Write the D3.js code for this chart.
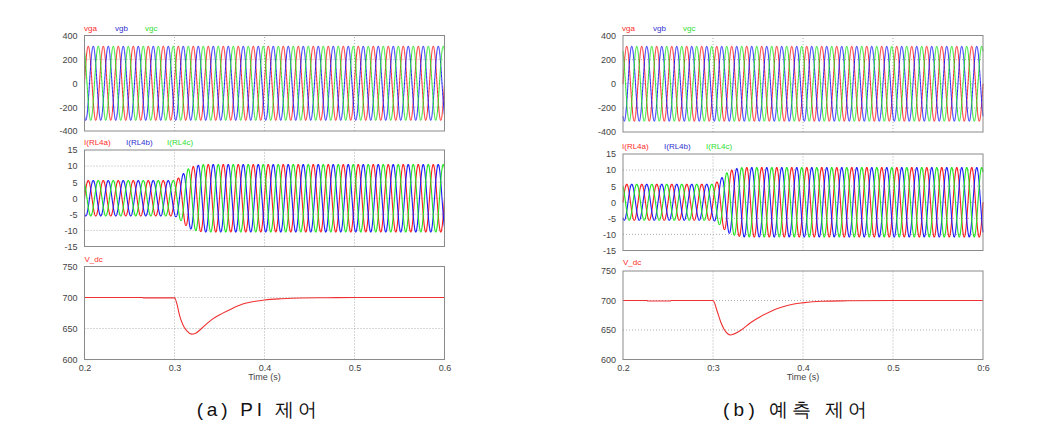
<!DOCTYPE html>
<html><head><meta charset="utf-8">
<script src="https://cdn.jsdelivr.net/npm/d3@7"></script>
<style>
html,body{margin:0;padding:0;background:#fff;}
svg{display:block;}
text{font-family:"Liberation Sans",Arial,sans-serif;}
</style></head>
<body>
<svg id="chart" width="1040" height="424"></svg>
<script>
// ---------------- data ----------------
const timeDomain = [0.2, 0.6];
const xTicks = [0.2, 0.3, 0.4, 0.5, 0.6];
const xTickLabelsA = ["0.2", "0.3", "0.4", "0.5", "0.6"];
const xTickLabelsB = ["0.2", "0:3", "0.4", "0.5", "0:6"];
const vTicks = [-400, -200, 0, 200, 400];
const iTicks = [-15, -10, -5, 0, 5, 10, 15];
const dcTicks = [600, 650, 700, 750];
const voltageNames = ["vga", "vgb", "vgc"];
const currentNames = ["I(RL4a)", "I(RL4b)", "I(RL4c)"];
const phaseShiftsDeg = [0, -120, 120];
const lineFrequencyHz = 60;
const voltagePeak = 311;
// current envelope (peak amplitude, A)
const currentEnvTimeA = [0.2, 0.3, 0.304, 0.309, 0.314, 0.319, 0.325, 0.333, 0.6];
const currentEnvAmpA  = [5.5, 5.5, 6.2, 7.4, 8.9, 9.7, 10.2, 10.5, 10.5];
const currentEnvTimeB = [0.2, 0.3, 0.304, 0.309, 0.314, 0.319, 0.325, 0.333, 0.6];
const currentEnvAmpB  = [5.6, 5.6, 6.2, 7.4, 8.9, 9.8, 10.4, 10.8, 10.8];
// DC-link voltage
const vdcTimeA = [0.2, 0.265, 0.2651, 0.2999, 0.3, 0.3026, 0.306, 0.31, 0.3137, 0.319, 0.323, 0.33, 0.341, 0.3526, 0.3637, 0.375, 0.39, 0.4, 0.419, 0.44, 0.47, 0.5, 0.6];
const vdcValA  = [700, 700, 699.4, 699.4, 700, 690, 669, 654, 646, 641, 642, 650, 664, 674, 682, 689, 694, 696, 698, 699.2, 699.6, 700, 700];
const vdcTimeB = [0.2, 0.227, 0.2271, 0.253, 0.2531, 0.3, 0.3048, 0.3085, 0.312, 0.316, 0.3196, 0.323, 0.331, 0.342, 0.353, 0.364, 0.375, 0.39, 0.3995, 0.42, 0.45, 0.5, 0.6];
const vdcValB  = [700, 700, 699.2, 699.2, 700, 700, 681, 664, 652, 644, 641.6, 643, 649.6, 662.8, 673, 681.5, 688, 694, 696, 698.7, 699.5, 700, 700];
const captions = ["(a) PI 제어", "(b) 예측 제어"];

// ---------------- style / layout ----------------
const colors = ["#ff1a1a", "#1a1aff", "#1fe61f"];
const legendColors = ["#ff2a2a", "#3030d0", "#30dd30"];
const panels = [
  {x0: 84.5, x1: 444.5, top: [35.5, 131], mid: [150, 246.5], bot: [266.5, 359.5],
   legX: [84, 115, 145], legIX: [84, 126, 167], legY: [31, 145, 262],
   env: [currentEnvTimeA, currentEnvAmpA], vdc: [vdcTimeA, vdcValA],
   xLabels: xTickLabelsA, caption: captions[0], capX: 256.7, capW: 120},
  {x0: 623, x1: 983, top: [35.5, 132], mid: [154, 250.5], bot: [271, 359.5],
   legX: [622, 653, 683], legIX: [622, 664, 706], legY: [31, 149, 264.5],
   env: [currentEnvTimeB, currentEnvAmpB], vdc: [vdcTimeB, vdcValB],
   xLabels: xTickLabelsB, caption: captions[1], capX: 795, capW: 144}
];

const svg = d3.select("#chart");
const dt = 0.0001;
const times = d3.range(timeDomain[0], timeDomain[1] + dt/2, dt);

function drawFrame(g, x, y, yTicks, gridVals) {
  g.append("g").selectAll("line").data(xTicks.slice(1, -1)).join("line")
    .attr("x1", d => x(d)).attr("x2", d => x(d))
    .attr("y1", y.range()[0]).attr("y2", y.range()[1])
    .attr("stroke", "#9a9a9a").attr("stroke-width", 0.8).attr("stroke-dasharray", "1,2");
  g.append("g").selectAll("line").data(gridVals).join("line")
    .attr("x1", x.range()[0]).attr("x2", x.range()[1])
    .attr("y1", d => y(d)).attr("y2", d => y(d))
    .attr("stroke", "#9a9a9a").attr("stroke-width", 0.8).attr("stroke-dasharray", "1,2");
  const ax = d3.axisLeft(y).tickValues(yTicks).tickFormat(d => String(d)).tickSize(0).tickPadding(7);
  const ag = g.append("g").attr("transform", `translate(${x.range()[0]},0)`).call(ax);
  ag.select(".domain").remove();
  ag.selectAll("text").attr("font-size", 9).attr("fill", "#444");
}

function finishFrame(g, x, y) {
  g.append("rect")
    .attr("x", x.range()[0]).attr("y", y.range()[1])
    .attr("width", x.range()[1] - x.range()[0]).attr("height", y.range()[0] - y.range()[1])
    .attr("fill", "none").attr("stroke", "#8a8a8a").attr("stroke-width", 1);
}

panels.forEach(p => {
  const g = svg.append("g");
  const x = d3.scaleLinear().domain(timeDomain).range([p.x0, p.x1]);

  // ---- grid voltages ----
  const yV = d3.scaleLinear().domain([-400, 400]).range([p.top[1], p.top[0]]);
  drawFrame(g, x, yV, vTicks, [-200, 0, 200]);
  voltageNames.forEach((nm, k) => {
    const line = d3.line()
      .x(t => x(t))
      .y(t => yV(voltagePeak * Math.sin(2 * Math.PI * lineFrequencyHz * t + phaseShiftsDeg[k] * Math.PI / 180)));
    g.append("path").datum(times).attr("d", line)
      .attr("fill", "none").attr("stroke", colors[k]).attr("stroke-width", 1);
    g.append("text").attr("x", p.legX[k]).attr("y", p.legY[0]).text(nm)
      .attr("font-size", 8).attr("fill", legendColors[k]);
  });
  finishFrame(g, x, yV);

  // ---- load currents ----
  const yI = d3.scaleLinear().domain([-15, 15]).range([p.mid[1], p.mid[0]]);
  drawFrame(g, x, yI, iTicks, [-10, -5, 0, 5, 10]);
  const env = d3.scaleLinear().domain(p.env[0]).range(p.env[1]).clamp(true);
  currentNames.forEach((nm, k) => {
    const line = d3.line()
      .x(t => x(t))
      .y(t => yI(env(t) * Math.sin(2 * Math.PI * lineFrequencyHz * t + phaseShiftsDeg[k] * Math.PI / 180)));
    g.append("path").datum(times).attr("d", line)
      .attr("fill", "none").attr("stroke", colors[k]).attr("stroke-width", 1.1);
    g.append("text").attr("x", p.legIX[k]).attr("y", p.legY[1]).text(nm)
      .attr("font-size", 8).attr("fill", legendColors[k]);
  });
  finishFrame(g, x, yI);

  // ---- DC link voltage ----
  const yD = d3.scaleLinear().domain([600, 750]).range([p.bot[1], p.bot[0]]);
  drawFrame(g, x, yD, dcTicks, [650, 700]);
  const pts = p.vdc[0].map((t, i) => [t, p.vdc[1][i]]);
  g.append("path").datum(pts)
    .attr("d", d3.line().x(d => x(d[0])).y(d => yD(d[1])).curve(d3.curveMonotoneX))
    .attr("fill", "none").attr("stroke", "#f03030").attr("stroke-width", 1.1);
  g.append("text").attr("x", p.x0).attr("y", p.legY[2]).text("V_dc")
    .attr("font-size", 8).attr("fill", legendColors[0]);
  finishFrame(g, x, yD);

  // x axis labels
  const xa = d3.axisBottom(x).tickValues(xTicks).tickFormat((d, i) => p.xLabels[i]).tickSize(0).tickPadding(5);
  const xg = g.append("g").attr("transform", `translate(0,${p.bot[1]})`).call(xa);
  xg.select(".domain").remove();
  xg.selectAll("text").attr("font-size", 9).attr("fill", "#444");
  g.append("text").attr("x", (p.x0 + p.x1) / 2).attr("y", 380).attr("text-anchor", "middle")
    .attr("font-size", 9).attr("fill", "#444").text("Time (s)");

  // caption
  g.append("text").attr("x", p.capX - p.capW / 2).attr("y", 416)
    .attr("font-family", "'Noto Sans CJK KR', sans-serif").attr("font-size", 19)
    .attr("fill", "#111").attr("textLength", p.capW).attr("lengthAdjust", "spacing")
    .text(p.caption);
});
</script>
</body></html>
